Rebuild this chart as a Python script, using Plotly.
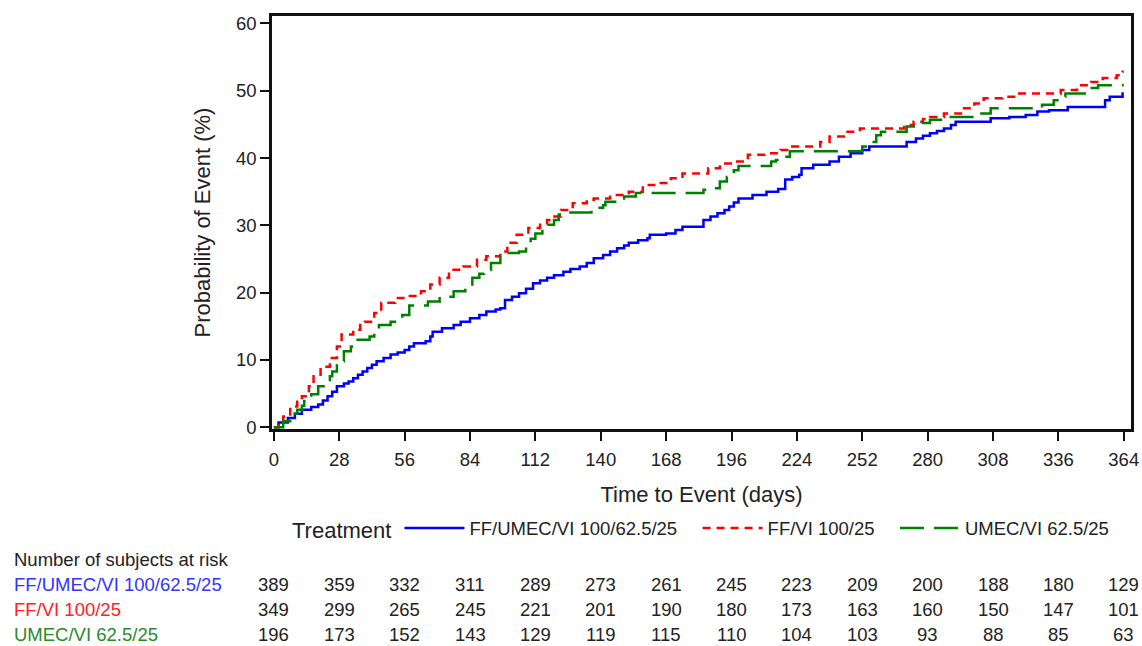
import plotly.graph_objects as go

# ---- data (days, cumulative probability %) ----
blue_days = [0, 2, 6, 9, 12, 16, 19, 21, 23, 25, 27, 30, 32, 34, 36, 38, 40, 42, 44, 47, 50, 53, 56, 58, 60, 65, 67, 68, 72, 77, 80, 84, 88, 91, 95, 97, 99, 102, 105, 108, 111, 114, 117, 120, 124, 127, 131, 134, 137, 141, 144, 147, 150, 152, 156, 160, 161, 168, 172, 175, 184, 187, 190, 193, 195, 197, 199, 205, 211, 216, 219, 222, 225, 226, 231, 238, 242, 247, 252, 255, 271, 275, 278, 281, 284, 287, 290, 292, 307, 315, 322, 327, 332, 340, 356, 358, 363.5, 364]
blue_vals = [0, 0.7, 1.4, 2.0, 2.6, 3.0, 3.4, 4.0, 4.6, 5.3, 6.1, 6.5, 6.8, 7.3, 7.8, 8.3, 8.8, 9.3, 9.8, 10.3, 10.8, 11.1, 11.5, 12.0, 12.5, 12.8, 13.5, 14.2, 14.7, 15.2, 15.7, 16.2, 16.7, 17.2, 17.5, 17.7, 18.9, 19.4, 19.9, 20.6, 21.4, 21.8, 22.2, 22.6, 23.1, 23.5, 23.9, 24.4, 25.1, 25.6, 26.1, 26.6, 27.0, 27.4, 27.8, 28.1, 28.6, 28.8, 29.3, 29.8, 30.8, 31.3, 31.8, 32.3, 32.8, 33.4, 34.0, 34.5, 35.0, 35.4, 36.8, 37.2, 37.5, 38.5, 39.0, 39.5, 40.2, 40.7, 41.2, 41.7, 42.4, 42.9, 43.3, 43.7, 44.0, 44.4, 44.9, 45.4, 45.9, 46.1, 46.4, 46.9, 47.1, 47.6, 48.6, 49.1, 49.6, 49.6]

red_days = [0, 2, 4, 7, 10, 12, 15, 17, 20, 24, 27, 29, 34, 37, 39, 43, 46, 52, 57, 63, 67, 71, 75, 81, 87, 91, 97, 100, 104, 109, 114, 117, 119, 123, 128, 134, 137, 144, 152, 158, 164, 170, 175, 186, 191, 197, 203, 210, 217, 222, 234, 238, 245, 251, 270, 274, 278, 281, 287, 295, 300, 304, 312, 318, 337, 344, 350, 355, 361, 363.5, 364]
red_vals = [0, 0.8, 1.6, 3.1, 3.8, 4.6, 6.1, 7.6, 9.0, 10.3, 12.0, 13.8, 14.5, 15.2, 15.7, 17.0, 18.5, 19.2, 19.5, 20.2, 21.2, 22.2, 23.4, 23.9, 24.9, 25.4, 26.1, 27.4, 28.6, 29.6, 30.3, 30.8, 31.3, 32.3, 33.3, 33.8, 34.0, 34.5, 35.0, 36.0, 36.3, 37.0, 37.7, 38.5, 39.2, 39.5, 40.5, 40.7, 41.2, 41.7, 42.4, 43.2, 43.9, 44.4, 44.9, 45.4, 45.8, 46.1, 46.6, 47.4, 48.1, 48.9, 49.1, 49.6, 50.1, 50.8, 51.3, 51.9, 52.3, 52.8, 52.8]

green_days = [0, 4, 7, 9, 10, 12, 13, 16, 19, 22, 24, 25, 27, 30, 33, 35, 41, 43, 45, 50, 53, 55, 58, 66, 71, 77, 82, 85, 88, 90, 93, 97, 98, 105, 108, 110, 112, 115, 120, 122, 125, 136, 141, 142, 147, 150, 155, 184, 188, 191, 194, 197, 199, 213, 215, 219, 221, 252, 255, 258, 260, 271, 277, 281, 287, 302, 307, 329, 334, 337, 339, 349, 353, 364]
green_vals = [0, 0.9, 1.4, 2.0, 2.6, 3.2, 3.9, 4.9, 6.1, 6.8, 7.6, 8.3, 9.8, 11.3, 12.0, 13.0, 13.5, 14.5, 15.2, 15.7, 16.2, 16.7, 18.1, 18.7, 19.4, 20.2, 20.9, 22.2, 22.8, 23.4, 24.4, 25.4, 25.9, 26.1, 27.4, 28.0, 28.8, 30.1, 30.8, 31.6, 31.9, 32.6, 33.0, 33.5, 34.0, 34.3, 34.8, 35.3, 35.5, 36.5, 37.2, 38.2, 38.8, 39.5, 39.7, 40.2, 41.0, 41.7, 42.4, 43.4, 43.9, 44.7, 45.2, 45.7, 46.1, 46.6, 47.4, 47.9, 48.6, 49.1, 49.6, 50.4, 50.8, 50.8]

series_names = ["FF/UMEC/VI 100/62.5/25", "FF/VI 100/25", "UMEC/VI 62.5/25"]
line_colors = ["#0000FF", "#FF0000", "#008000"]
label_colors = ["#3333FF", "#FF2020", "#2A8A2A"]
line_dashes = ["solid", "8px,6px", "24px,10px"]

tick_days = [0, 28, 56, 84, 112, 140, 168, 196, 224, 252, 280, 308, 336, 364]
at_risk = [
    [389, 359, 332, 311, 289, 273, 261, 245, 223, 209, 200, 188, 180, 129],
    [349, 299, 265, 245, 221, 201, 190, 180, 173, 163, 160, 150, 147, 101],
    [196, 173, 152, 143, 129, 119, 115, 110, 104, 103, 93, 88, 85, 63],
]

FONT = "Liberation Sans"
FS = 18.5
TXT = "#222222"
NB = "\u00a0"
legend_pad = [NB * 3, NB * 3, ""]

fig = go.Figure()
for name, pad, xs, ys, col, dash in zip(series_names, legend_pad,
                                        [blue_days, red_days, green_days],
                                        [blue_vals, red_vals, green_vals],
                                        line_colors, line_dashes):
    fig.add_trace(go.Scatter(x=xs, y=ys, mode="lines", name=name + pad,
                             line=dict(color=col, width=2.5, dash=dash, shape="hv")))

W, H = 1142, 646
ml, mr, mt, mb = 272, 11, 16, 646 - 429
ph = H - mt - mb
pw = W - ml - mr


def py(page_y):
    return (H - mb - page_y) / ph


def px(page_x):
    return (page_x - ml) / pw


ann = []
ann.append(dict(text="Number of subjects at risk", xref="paper", yref="paper",
                x=px(12), y=py(559), xanchor="left", yanchor="middle",
                showarrow=False, font=dict(family=FONT, size=FS, color=TXT)))
row_y = [584, 609, 634]
for i in range(3):
    ann.append(dict(text=series_names[i], xref="paper", yref="paper",
                    x=px(12), y=py(row_y[i]), xanchor="left", yanchor="middle",
                    showarrow=False, font=dict(family=FONT, size=FS, color=label_colors[i])))
    for d, v in zip(tick_days, at_risk[i]):
        ann.append(dict(text=str(v), xref="x", yref="paper", x=d, y=py(row_y[i]),
                        xanchor="center", yanchor="middle", showarrow=False,
                        font=dict(family=FONT, size=FS, color=TXT)))

fig.update_layout(
    width=W, height=H,
    margin=dict(l=ml, r=mr, t=mt, b=mb, autoexpand=False),
    paper_bgcolor="white", plot_bgcolor="white",
    font=dict(family=FONT, size=FS, color=TXT),
    xaxis=dict(range=[-0.8, 367.1], tickvals=tick_days, ticks="outside", ticklen=9,
               tickwidth=2, tickcolor="#111", showline=True, linecolor="#111", linewidth=2.5,
               mirror=True, showgrid=False, zeroline=False, ticklabelstandoff=3,
               automargin=False,
               title=dict(text="Time to Event (days)", standoff=18)),
    yaxis=dict(range=[-0.25, 61.1], tickvals=[0, 10, 20, 30, 40, 50, 60], ticks="outside",
               ticklen=9, tickwidth=2, tickcolor="#111", showline=True, linecolor="#111",
               linewidth=2.5, mirror=True, showgrid=False, zeroline=False,
               automargin=False,
               title=dict(text="Probability of Event (%)", standoff=20)),
    legend=dict(orientation="h", x=px(290), y=py(529), xanchor="left", yanchor="middle",
                title=dict(text="Treatment", side="left"), itemwidth=60,
                font=dict(family=FONT, size=FS, color=TXT), bgcolor="rgba(0,0,0,0)"),
    annotations=ann,
)

fig.write_html("out.html", config={"displayModeBar": False},
               post_script="document.body.style.margin='0';document.body.style.overflow='hidden';")
